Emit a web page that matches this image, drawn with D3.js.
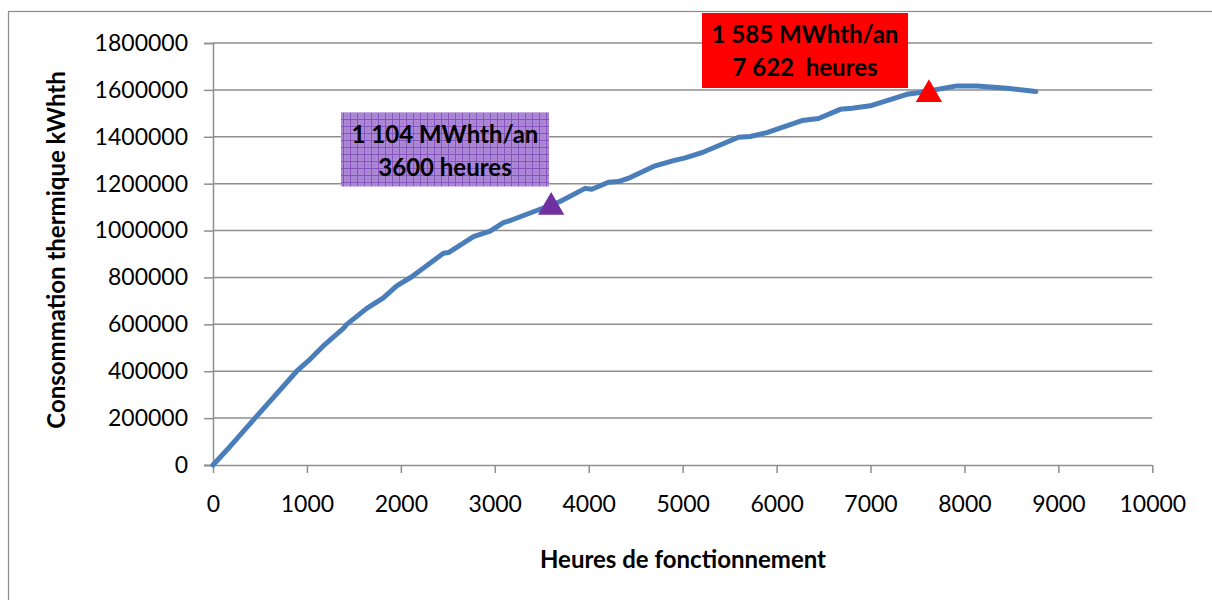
<!DOCTYPE html>
<html>
<head>
<meta charset="utf-8">
<script src="https://cdn.jsdelivr.net/npm/d3@7"></script>
<style>
  html, body { margin: 0; padding: 0; background: #fff; }
  svg { display: block; }
  text { font-family: Lato, "Open Sans", sans-serif; }
</style>
</head>
<body>
<svg id="chart" width="1212" height="600"></svg>
<script>
// Heures de fonctionnement cumulées vs consommation thermique cumulée (kWhth)
const hours = [0, 180, 447, 891, 1033, 1193, 1388, 1424, 1637, 1810, 1956, 2116, 2453, 2507, 2773,
  2950, 3092, 3145, 3270, 3482, 3695, 3962, 4033, 4210, 4316, 4441, 4707, 4902, 5027, 5222,
  5595, 5719, 5897, 6270, 6447, 6677, 6802, 6997, 7387, 7529, 7920, 8133, 8452, 8760];
const consumption = [0, 78000, 200000, 400000, 451000, 515000, 583000, 600000, 668000, 712000, 764000, 803000, 903000, 906000, 974000,
  998000, 1034000, 1040000, 1059000, 1091000, 1124000, 1180000, 1176000, 1206000, 1209000, 1226000, 1276000, 1298000, 1310000, 1335000,
  1398000, 1401000, 1418000, 1469000, 1478000, 1517000, 1522000, 1532000, 1581000, 1589000, 1617000, 1617000, 1607000, 1593000];

const xTicks = [0, 1000, 2000, 3000, 4000, 5000, 6000, 7000, 8000, 9000, 10000];
const yTicks = [0, 200000, 400000, 600000, 800000, 1000000, 1200000, 1400000, 1600000, 1800000];

// Points remarquables
const markerHours = [3600, 7622];
const markerValues = [1104000, 1585000];
const markerLines = [["1 104 MWhth/an", "3600 heures"], ["1 585 MWhth/an", "7 622  heures"]];

const xTitle = "Heures de fonctionnement";
const yTitle = "Consommation thermique kWhth";

const svg = d3.select("#chart");
const gridColor = "#8e8e8e";

// cadre du graphique
svg.append("rect")
  .attr("x", 8.5).attr("y", 11.5)
  .attr("width", 1300).attr("height", 700)
  .attr("fill", "none").attr("stroke", "#8a8a8a").attr("stroke-width", 1.2);

const x = d3.scaleLinear().domain([0, 10000]).range([213, 1152.3]);
const y = d3.scaleLinear().domain([0, 1800000]).range([465, 43]);

// grille horizontale
svg.append("g")
  .selectAll("line")
  .data(yTicks.filter(d => d > 0))
  .join("line")
  .attr("x1", x(0)).attr("x2", x(10000))
  .attr("y1", d => y(d)).attr("y2", d => y(d))
  .attr("stroke", gridColor).attr("stroke-width", 1.5);

// axe Y
const yAxis = svg.append("g")
  .attr("transform", `translate(${x(0)},0)`)
  .call(d3.axisLeft(y).tickValues(yTicks).tickSize(9).tickPadding(16).tickFormat(d3.format("d")));
yAxis.select(".domain").attr("stroke", gridColor).attr("stroke-width", 1.5);
yAxis.selectAll(".tick line").attr("stroke", gridColor).attr("stroke-width", 1.5);
yAxis.selectAll(".tick text")
  .attr("font-size", 23).attr("fill", "#000")
  .style("font-family", "Lato, sans-serif");

// axe X
const xAxis = svg.append("g")
  .attr("transform", `translate(0,${y(0)})`)
  .call(d3.axisBottom(x).tickValues(xTicks).tickSize(8).tickPadding(23).tickFormat(d3.format("d")));
xAxis.select(".domain").attr("stroke", gridColor).attr("stroke-width", 1.5)
  .attr("d", `M${x(0) - 9},0.5H${x(10000)}`);
xAxis.selectAll(".tick line").attr("stroke", gridColor).attr("stroke-width", 1.5);
xAxis.selectAll(".tick text")
  .attr("font-size", 23).attr("fill", "#000")
  .style("font-family", "Lato, sans-serif");

// courbe
const series = hours.map((h, i) => [h, consumption[i]]);
svg.append("path")
  .datum(series)
  .attr("fill", "none")
  .attr("stroke", "#4a7ebb")
  .attr("stroke-width", 5)
  .attr("stroke-linejoin", "round")
  .attr("stroke-linecap", "round")
  .attr("d", d3.line().x(d => x(d[0])).y(d => y(d[1])));

// motif quadrillé violet pour l'étiquette 3600 h
const defs = svg.append("defs");
const pat = defs.append("pattern")
  .attr("id", "violetGrid")
  .attr("patternUnits", "userSpaceOnUse")
  .attr("width", 7).attr("height", 7);
pat.append("rect").attr("width", 7).attr("height", 7).attr("fill", "#ac88d6");
pat.append("path").attr("d", "M0,0.5H7M0.5,0V7").attr("stroke", "#8555bd").attr("stroke-width", 1);
pat.append("circle").attr("cx", 4).attr("cy", 4).attr("r", 0.6).attr("fill", "#8f66c4");

// étiquettes
const boxes = [
  { x: 341, y: 112.5, w: 208, h: 74, fill: "url(#violetGrid)" },
  { x: 702, y: 13, w: 206, h: 75, fill: "#ff0000" }
];
boxes.forEach((b, i) => {
  svg.append("rect")
    .attr("x", b.x).attr("y", b.y).attr("width", b.w).attr("height", b.h)
    .attr("fill", b.fill);
  svg.append("text")
    .attr("x", b.x + b.w / 2)
    .attr("text-anchor", "middle")
    .attr("font-size", 24).attr("font-weight", "bold").attr("fill", "#000")
    .attr("xml:space", "preserve")
    .selectAll("tspan")
    .data(markerLines[i])
    .join("tspan")
    .attr("x", b.x + b.w / 2)
    .attr("y", (d, j) => b.y + 30 + j * 33)
    .text(d => d);
});

// marqueurs triangulaires
const markerColors = ["#7030a0", "#ff0000"];
markerHours.forEach((h, i) => {
  svg.append("path")
    .attr("d", d3.symbol().type(d3.symbolTriangle).size(300)())
    .attr("transform", `translate(${x(h)},${y(markerValues[i]) + 1})`)
    .attr("fill", markerColors[i]);
});

// titres des axes
svg.append("text")
  .attr("x", 683).attr("y", 568)
  .attr("text-anchor", "middle")
  .attr("font-size", 24).attr("font-weight", "bold")
  .text(xTitle);

svg.append("text")
  .attr("transform", `translate(55,250) rotate(-90)`)
  .attr("text-anchor", "middle")
  .attr("dominant-baseline", "central")
  .attr("font-size", 24).attr("font-weight", "bold")
  .text(yTitle);
</script>
</body>
</html>
